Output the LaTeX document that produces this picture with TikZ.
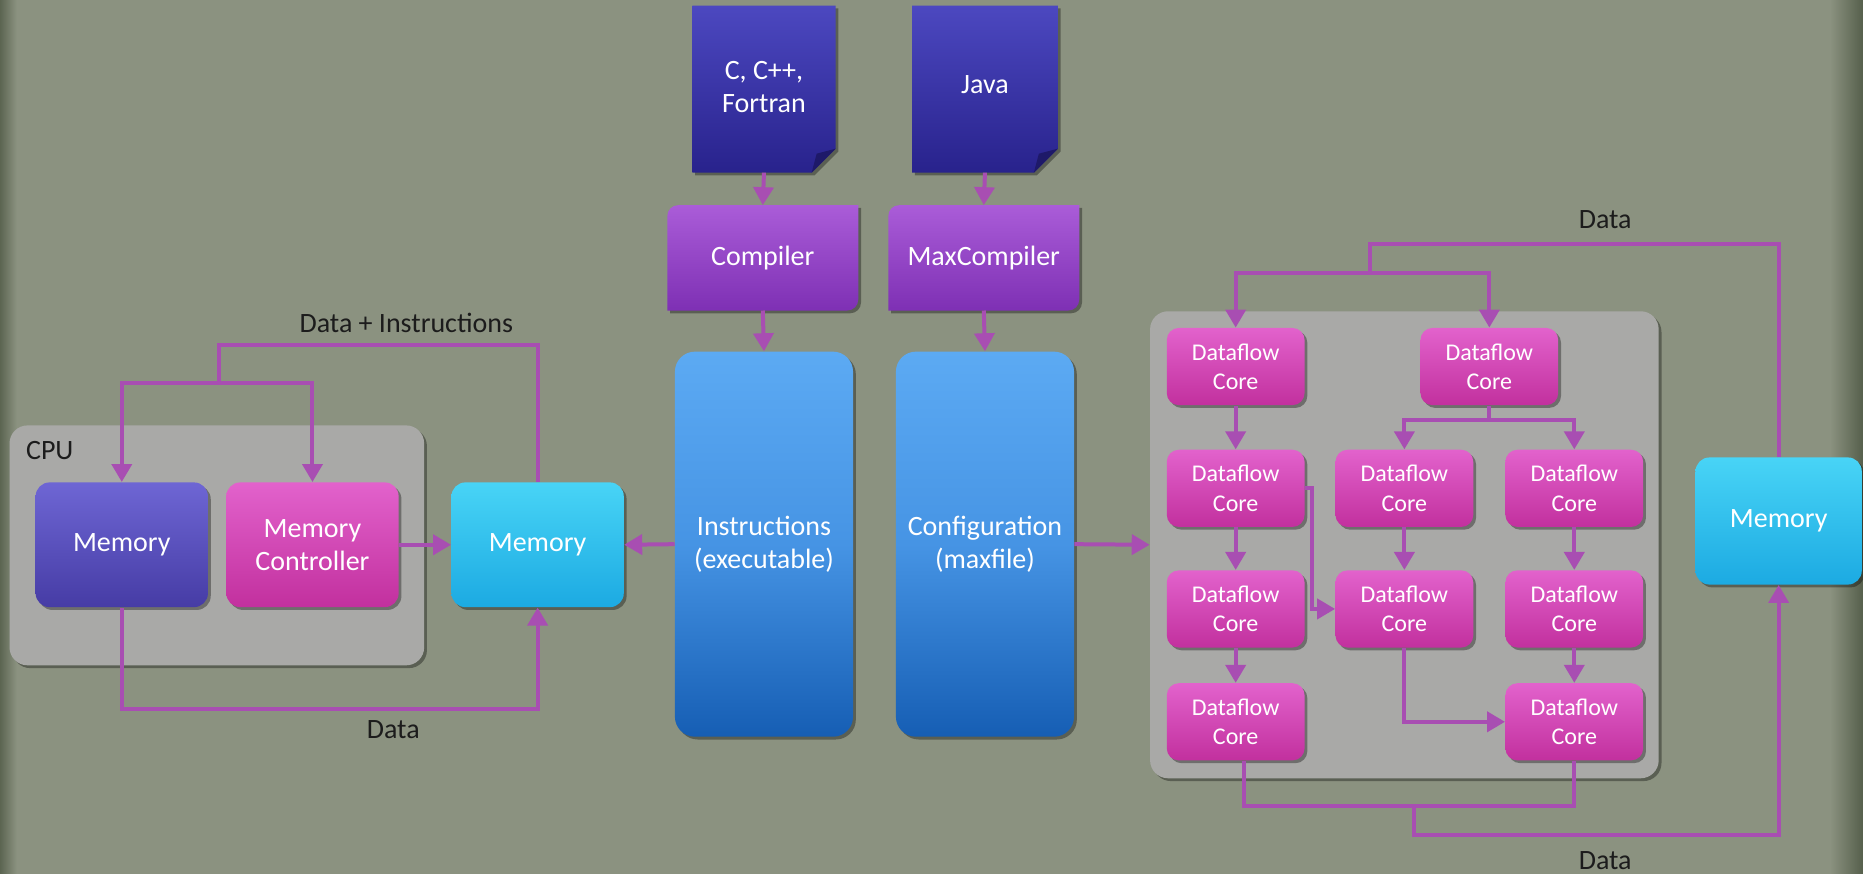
\documentclass[tikz,border=0pt]{standalone}
\usepackage{fontspec}
\setmainfont{Carlito}
\usetikzlibrary{arrows.meta,shadows}

\definecolor{bgc}{RGB}{139,146,128}
\definecolor{bgdark}{RGB}{78,88,68}
\definecolor{panel}{RGB}{169,169,167}
\definecolor{connc}{RGB}{168,78,178}
\definecolor{coretop}{RGB}{226,98,204}
\definecolor{corebot}{RGB}{194,48,158}
\definecolor{memtop}{RGB}{110,102,212}
\definecolor{membot}{RGB}{70,60,165}
\definecolor{cyantop}{RGB}{72,212,246}
\definecolor{cyanbot}{RGB}{28,170,226}
\definecolor{doctop}{RGB}{76,72,192}
\definecolor{docbot}{RGB}{40,34,140}
\definecolor{comptop}{RGB}{170,92,216}
\definecolor{compbot}{RGB}{126,48,180}
\definecolor{bluetop}{RGB}{92,170,243}
\definecolor{bluebot}{RGB}{22,94,180}
\definecolor{labelc}{RGB}{28,28,28}

\newcommand\mainfs{\fontsize{14}{16.5}\selectfont}
\newcommand\coresfs{\fontsize{12}{14.7}\selectfont}

\pgfdeclarelayer{bg}
\pgfdeclarelayer{shp}
\pgfsetlayers{bg,shp,main}

\tikzset{
  softshadow/.style={drop shadow={shadow xshift=1.4pt,shadow yshift=-1.4pt,opacity=0.35,fill=black}},
  conn/.style={draw=connc,line width=2pt},
  arr/.style={conn,-{Triangle[width=10pt,length=9pt]}},
  panelbox/.style={fill=panel,rounded corners=9pt,softshadow,inner sep=0pt},
  blk/.style={rounded corners=7pt,softshadow,inner sep=0pt,text=white,align=center,font=\mainfs},
  cpumem/.style={blk,top color=memtop,bottom color=membot,minimum width=86.2pt,minimum height=62.4pt},
  ctrlbox/.style={blk,top color=coretop,bottom color=corebot,minimum width=86.2pt,minimum height=62.4pt},
  extmem/.style={blk,top color=cyantop,bottom color=cyanbot,minimum width=86.2pt,minimum height=62.4pt},
  corebox/.style={blk,top color=coretop,bottom color=corebot,minimum width=68.9pt,minimum height=38.6pt,font=\coresfs,rounded corners=6pt},
  tallbox/.style={blk,rounded corners=10pt,top color=bluetop,bottom color=bluebot,middle color={rgb,255:red,70;green,148;blue,228},minimum width=89.1pt,minimum height=192.6pt},
  docnode/.style={inner sep=0pt,text=white,align=center,font=\mainfs,minimum height=83.2pt},
  compnode/.style={inner sep=0pt,text=white,align=center,font=\mainfs,minimum width=95.1pt,minimum height=52.3pt},
  datalabel/.style={text=labelc,font=\mainfs,inner sep=0pt},
  docfill/.style={top color=doctop,bottom color=docbot,softshadow},
  compfill/.style={top color=comptop,bottom color=compbot,softshadow}
}

% source-file shape: rectangle with a folded lower right corner
\newcommand\docshape[1]{%
  \shade[docfill] (#1.north west) -- (#1.north east) -- ([yshift=12pt]#1.south east)
    -- ([xshift=-12pt]#1.south east) -- (#1.south west) -- cycle;
  \fill[docbot!75!black] ([xshift=-12pt]#1.south east) -- ([yshift=12pt]#1.south east)
    -- ([xshift=-9.5pt,yshift=9.5pt]#1.south east) -- cycle;}

% compiler shape: rounded top left and bottom right corners
\newcommand\compshape[1]{%
  \shade[compfill] ([yshift=-5.5pt]#1.north west)
    .. controls ([yshift=-2.4pt]#1.north west) and ([xshift=2.4pt]#1.north west) .. ([xshift=5.5pt]#1.north west)
    -- (#1.north east) -- ([yshift=5.5pt]#1.south east)
    .. controls ([yshift=2.4pt]#1.south east) and ([xshift=-2.4pt]#1.south east) .. ([xshift=-5.5pt]#1.south east)
    -- (#1.south west) -- cycle;}

\begin{document}
\begin{tikzpicture}[x=0.5943pt,y=-0.5943pt]
\useasboundingbox (0,0) rectangle (1568,735);

\begin{pgfonlayer}{bg}
  \fill[bgc] (-4,-4) rectangle (1572,740);
  \shade[left color=bgdark,right color=bgc] (-4,-4) rectangle (14,740);
  \shade[left color=bgc,right color=bgdark] (1540,-4) rectangle (1572,740);
\end{pgfonlayer}

% ---------- CPU side ----------
\node[panelbox,minimum width=207.4pt,minimum height=120pt,
      label={[anchor=north west,inner sep=0pt,xshift=8.3pt,yshift=-8pt,text=labelc,font=\mainfs]north west:CPU}]
      (cpu) at (182.5,459) {};
\node[cpumem] (mem) at (102.5,458.5) {Memory};
\node[ctrlbox] (mc) at (263,458.5) {Memory\\Controller};
\node[extmem] (cmem) at (452.5,458.5) {Memory};

\node[datalabel] (dilabel) at (342,272) {Data + Instructions};
\node[datalabel] (dlabel1) at (331,614) {Data};

\coordinate (jl) at (184,322);
\coordinate (jt) at (184,290);
\coordinate (lb) at (0,597);
\draw[conn] (cmem.north) |- (jt) -- (jl);
\draw[arr] (jl) -| (mem.north);
\draw[arr] (jl) -| (mc.north);
\draw[arr] (mc.east) -- (cmem.west);
\draw[arr] (mem.south) -- (mem.south |- lb) -| (cmem.south);

% ---------- tool chains ----------
\node[docnode,minimum width=71.3pt] (cdoc) at (643,75) {\raisebox{4.5pt}{\begin{tabular}{@{}c@{}}C, C++,\\Fortran\end{tabular}}};
\node[docnode,minimum width=72.5pt] (jdoc) at (829,75) {\raisebox{4.5pt}{Java}};
\node[compnode] (comp) at (642,217) {Compiler};
\node[compnode] (maxc) at (828,217) {MaxCompiler};
\begin{pgfonlayer}{shp}
  \docshape{cdoc}
  \docshape{jdoc}
  \compshape{comp}
  \compshape{maxc}
\end{pgfonlayer}

\node[tallbox] (instr) at (643,458) {Instructions\\(executable)};
\node[tallbox] (conf) at (829,458) {Configuration\\(maxfile)};

\draw[arr] (cdoc.south) -- (comp.north);
\draw[arr] (jdoc.south) -- (maxc.north);
\draw[arr] (comp.south) -- (instr.north);
\draw[arr] (maxc.south) -- (conf.north);
\draw[arr] (instr.west) -- (cmem.east);

% ---------- dataflow engine ----------
\node[panelbox,minimum width=254.4pt,minimum height=233.6pt] (df) at (1182,458.5) {};
\draw[arr] (conf.east) -- (df.west);

\node[corebox] (c11) at (1040,308.5) {Dataflow\\Core};
\node[corebox] (ctr) at (1253.5,308.5) {Dataflow\\Core};
\node[corebox] (c12) at (1040,411) {Dataflow\\Core};
\node[corebox] (c22) at (1182,411) {Dataflow\\Core};
\node[corebox] (c32) at (1325,411) {Dataflow\\Core};
\node[corebox] (c13) at (1040,512.5) {Dataflow\\Core};
\node[corebox] (c23) at (1182,512.5) {Dataflow\\Core};
\node[corebox] (c33) at (1325,512.5) {Dataflow\\Core};
\node[corebox] (c14) at (1040,607.5) {Dataflow\\Core};
\node[corebox] (c34) at (1325,607.5) {Dataflow\\Core};

\node[extmem,minimum width=83.2pt,minimum height=63.6pt] (rmem) at (1497,438.5) {Memory};

\node[datalabel] (dlabel2) at (1351,185) {Data};
\node[datalabel] (dlabel3) at (1351,724) {Data};

\coordinate (dt) at (1153,205);
\coordinate (dj) at (1153,230);
\draw[conn] (rmem.north) |- (dt) -- (dj);
\draw[arr] (dj) -| (c11.north);
\draw[arr] (dj) -| (ctr.north);

\coordinate (fj) at (1253.5,353.5);
\draw[conn] (ctr.south) -- (fj);
\draw[arr] (fj) -| (c22.north);
\draw[arr] (fj) -| (c32.north);

\draw[arr] (c11.south) -- (c12.north);
\draw[arr] (c12.south) -- (c13.north);
\draw[arr] (c13.south) -- (c14.north);
\draw[arr] (c22.south) -- (c23.north);
\draw[arr] (c32.south) -- (c33.north);
\draw[arr] (c33.south) -- (c34.north);
\draw[arr] (c12.east) -- ++(6,0) |- (c23.west);
\draw[arr] (c23.south) |- (c34.west);

\coordinate (bj) at (1190,678);
\coordinate (bl) at (0,703);
\draw[conn] ([xshift=4pt]c14.south) |- (bj) -| (c34.south);
\draw[arr] (bj) -- (bj |- bl) -| (rmem.south);
\end{tikzpicture}
\end{document}
